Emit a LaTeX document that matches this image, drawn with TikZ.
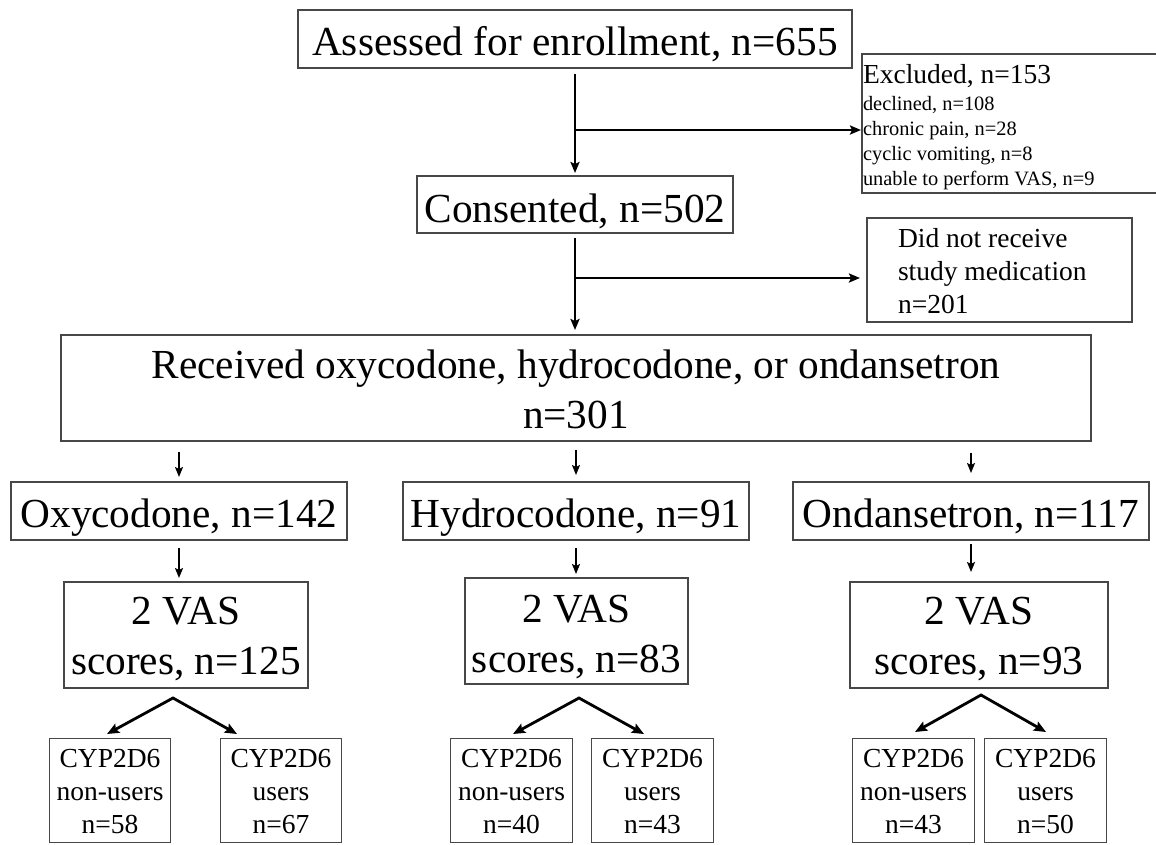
\documentclass[tikz,border=0pt]{standalone}
\usepackage{fontspec}
\setmainfont{Liberation Serif}
\usetikzlibrary{arrows.meta}
\newcommand{\fBig}{\fontsize{41.3pt}{50pt}\selectfont}
\newcommand{\fMed}{\fontsize{27.5pt}{33pt}\selectfont}
\newcommand{\fSml}{\fontsize{20.4pt}{25pt}\selectfont}
\newcommand{\mlines}[2]{\begin{tabular}[t]{@{}#1@{}}#2\end{tabular}}
\tikzset{
  box/.style={draw=black!72, line width=1.2pt, inner sep=0pt, outer sep=0pt},
  bigarrow/.style={line width=2.6pt, -{Stealth[length=11pt,width=9pt,inset=2pt]}},
  thinarrow/.style={line width=1.8pt, -{Stealth[length=10pt,width=8pt,inset=2pt]}},
  splitarrow/.style={line width=2.8pt, line join=miter,
    {Stealth[length=12pt,width=10pt,inset=2pt]}-{Stealth[length=12pt,width=10pt,inset=2pt]}},
  cyp/.style={box, minimum width=121.5pt, minimum height=104.5pt, font=\fMed,
    text height=0pt, text depth=47pt},
  vas/.style={box, minimum height=106pt, font=\fBig, text height=0pt},
  grp/.style={box, minimum height=58pt, font=\fBig, text height=32pt, text depth=0pt}
}
\begin{document}
\begin{tikzpicture}[x=1pt,y=-1pt]
\useasboundingbox (0,0) rectangle (1156,844);
\fill[white] (0,0) rectangle (1156,844);
\clip (0,0) rectangle (1156,844);

% top boxes
\node[box, minimum width=554pt, minimum height=58pt, font=\fBig,
      text height=32pt, text depth=0pt] (assessed) at (575,39)
      {Assessed for enrollment, n=655};
\node[box, minimum width=316pt, minimum height=57pt, font=\fBig,
      text height=35pt, text depth=0pt] (consented) at (575,204.5)
      {Consented, n=502};
\node[box, minimum width=302pt, minimum height=139pt, font=\fSml,
      text height=0pt, text depth=81pt] (excluded) at (1013,123.5)
      {\makebox[302pt][l]{\hspace{1pt}\mlines{l}{{\fMed Excluded, n=153}\\[2pt]declined, n=108\\chronic pain, n=28\\cyclic vomiting, n=8\\unable to perform VAS, n=9}}};
\node[box, minimum width=265pt, minimum height=104pt, font=\fMed,
      text height=0pt, text depth=46pt] (didnot) at (999.5,270)
      {\makebox[265pt][l]{\hspace{31pt}\mlines{l}{Did not receive\\study medication\\n=201}}};
\node[box, minimum width=1030pt, minimum height=106pt, font=\fBig,
      text height=0pt, text depth=20pt] (received) at (576,388)
      {\mlines{c}{Received oxycodone, hydrocodone, or ondansetron\\n=301}};

% drug groups
\node[grp, minimum width=336pt] (oxy) at (179,511) {Oxycodone, n=142};
\node[grp, minimum width=346pt] (hydro) at (576,511) {Hydrocodone, n=91};
\node[grp, minimum width=356pt] (ondan) at (971,511) {Ondansetron, n=117};

% VAS boxes
\node[vas, minimum width=244pt, text depth=22pt] (vas1) at (186,635) {\mlines{c}{2 VAS\\scores, n=125}};
\node[vas, minimum width=223pt, text depth=18pt] (vas2) at (576.5,631) {\mlines{c}{2 VAS\\scores, n=83}};
\node[vas, minimum width=258pt, text depth=22pt] (vas3) at (979,635) {\mlines{c}{2 VAS\\scores, n=93}};

% CYP2D6 boxes
\node[cyp] (nu1) at (110,790.5) {\mlines{c}{CYP2D6\\non-users\\n=58}};
\node[cyp] (us1) at (281,790.5) {\mlines{c}{CYP2D6\\users\\n=67}};
\node[cyp] (nu2) at (511.5,790.5) {\mlines{c}{CYP2D6\\non-users\\n=40}};
\node[cyp] (us2) at (652.5,790.5) {\mlines{c}{CYP2D6\\users\\n=43}};
\node[cyp] (nu3) at (913.5,790.5) {\mlines{c}{CYP2D6\\non-users\\n=43}};
\node[cyp] (us3) at (1045.5,790.5) {\mlines{c}{CYP2D6\\users\\n=50}};

% top flow
\coordinate (br1) at (575,130);
\coordinate (br2) at (575,278);
\draw[bigarrow, shorten <=6pt, shorten >=3pt] (assessed.south) -- (consented.north);
\draw[bigarrow, shorten >=1pt] (br1) -- (br1 -| excluded.west);
\draw[bigarrow, shorten <=5pt, shorten >=5pt] (consented.south) -- (received.north -| consented.south);
\draw[bigarrow, shorten >=7pt] (br2) -- (br2 -| didnot.west);

% received -> groups
\draw[thinarrow, shorten <=11pt, shorten >=5pt] (received.south -| oxy.north) -- (oxy.north);
\draw[thinarrow, shorten <=9pt, shorten >=7pt] (received.south -| hydro.north) -- (hydro.north);
\draw[thinarrow, shorten <=12pt, shorten >=9pt] (received.south -| ondan.north) -- (ondan.north);

% groups -> VAS
\draw[thinarrow, shorten <=8pt, shorten >=4pt] (oxy.south) -- (oxy.south |- vas1.north);
\draw[thinarrow, shorten <=8pt, shorten >=4pt] (hydro.south) -- (hydro.south |- vas2.north);
\draw[thinarrow, shorten <=4pt, shorten >=10pt] (ondan.south) -- (ondan.south |- vas3.north);

% splits
\coordinate (ap1) at (173,698);
\coordinate (tl1) at (107,734);
\coordinate (tr1) at (237,734);
\coordinate (ap2) at (579,698);
\coordinate (tl2) at (513,734);
\coordinate (tr2) at (644,734);
\coordinate (ap3) at (981,695);
\coordinate (tl3) at (915,732);
\coordinate (tr3) at (1046,732);
\draw[splitarrow] (tl1) -- (ap1) -- (tr1);
\draw[splitarrow] (tl2) -- (ap2) -- (tr2);
\draw[splitarrow] (tl3) -- (ap3) -- (tr3);
\end{tikzpicture}
\end{document}
